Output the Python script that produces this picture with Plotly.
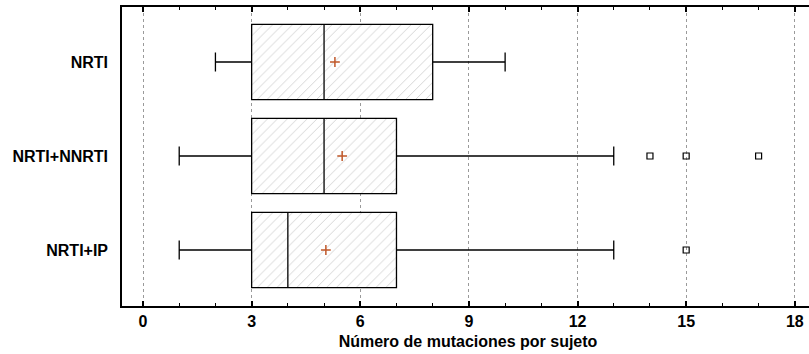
import plotly.graph_objects as go

categories = ["NRTI", "NRTI+NNRTI", "NRTI+IP"]
lower_whisker = [2, 1, 1]
q1 = [3, 3, 3]
median = [5, 5, 4]
q3 = [8, 7, 7]
upper_whisker = [10, 13, 13]
means = [5.3, 5.5, 5.05]
outlier_values = [14, 15, 17, 15]
outlier_groups = ["NRTI+NNRTI", "NRTI+NNRTI", "NRTI+NNRTI", "NRTI+IP"]
x_ticks = [0, 3, 6, 9, 12, 15, 18]
x_title = "Número de mutaciones por sujeto"

font_family = "Liberation Sans, Arial, sans-serif"

fig = go.Figure()

# hatched box bodies
fig.add_trace(go.Bar(
    y=categories,
    x=[b - a for a, b in zip(q1, q3)],
    base=q1,
    orientation="h",
    marker=dict(
        color="white",
        line=dict(width=0),
        pattern=dict(shape="/", fgcolor="#aaaaaa", bgcolor="white", size=7, solidity=0.14),
    ),
    hoverinfo="skip",
    showlegend=False,
))

# box outline, median, whiskers
fig.add_trace(go.Box(
    y=categories,
    q1=q1,
    median=median,
    q3=q3,
    lowerfence=lower_whisker,
    upperfence=upper_whisker,
    orientation="h",
    fillcolor="rgba(0,0,0,0)",
    line=dict(color="black", width=1.3),
    whiskerwidth=0.25,
    boxpoints=False,
    showlegend=False,
))

# means
fig.add_trace(go.Scatter(
    x=means,
    y=categories,
    mode="markers",
    marker=dict(symbol="cross-thin-open", size=7, color="#c0582a",
                line=dict(color="#c0582a", width=1.5)),
    showlegend=False,
))

# outliers
fig.add_trace(go.Scatter(
    x=outlier_values,
    y=outlier_groups,
    mode="markers",
    marker=dict(symbol="square-open", size=6, color="black", line=dict(color="black", width=1.2)),
    showlegend=False,
))

fig.update_layout(
    width=814,
    height=354,
    margin=dict(l=122, r=0, t=7, b=48),
    paper_bgcolor="white",
    plot_bgcolor="white",
    bargap=0.2,
    boxgap=0.2,
    boxgroupgap=0,
    font=dict(family=font_family, size=16, color="black"),
    xaxis=dict(
        range=[-0.58, 18.53],
        tickvals=x_ticks,
        ticktext=[str(v) for v in x_ticks],
        ticks="inside",
        ticklen=5,
        tickwidth=1.5,
        tickcolor="black",
        minor=dict(dtick=1, ticks="inside", ticklen=3, tickwidth=1, tickcolor="black", showgrid=False),
        showgrid=True,
        gridcolor="#9a9a9a",
        griddash="dot",
        gridwidth=1,
        showline=True,
        linecolor="black",
        linewidth=1.5,
        mirror="ticks",
        zeroline=False,
        automargin=False,
        ticklabelstandoff=0,
        tickfont=dict(family=font_family, size=16, color="black", weight="bold"),
        title=dict(text=x_title, font=dict(family=font_family, size=16, color="black", weight="bold"), standoff=7),
    ),
    yaxis=dict(
        type="category",
        categoryorder="array",
        categoryarray=categories[::-1],
        range=[-0.596, 2.585],
        showgrid=False,
        showline=True,
        linecolor="black",
        linewidth=1.5,
        ticks="",
        ticklabelstandoff=9,
        zeroline=False,
        automargin=False,
        tickfont=dict(family=font_family, size=16, color="black", weight="bold"),
    ),
)

fig.write_html(
    "out.html",
    config={"displayModeBar": False},
    post_script="document.body.style.margin='0';document.body.style.overflow='hidden';",
)
